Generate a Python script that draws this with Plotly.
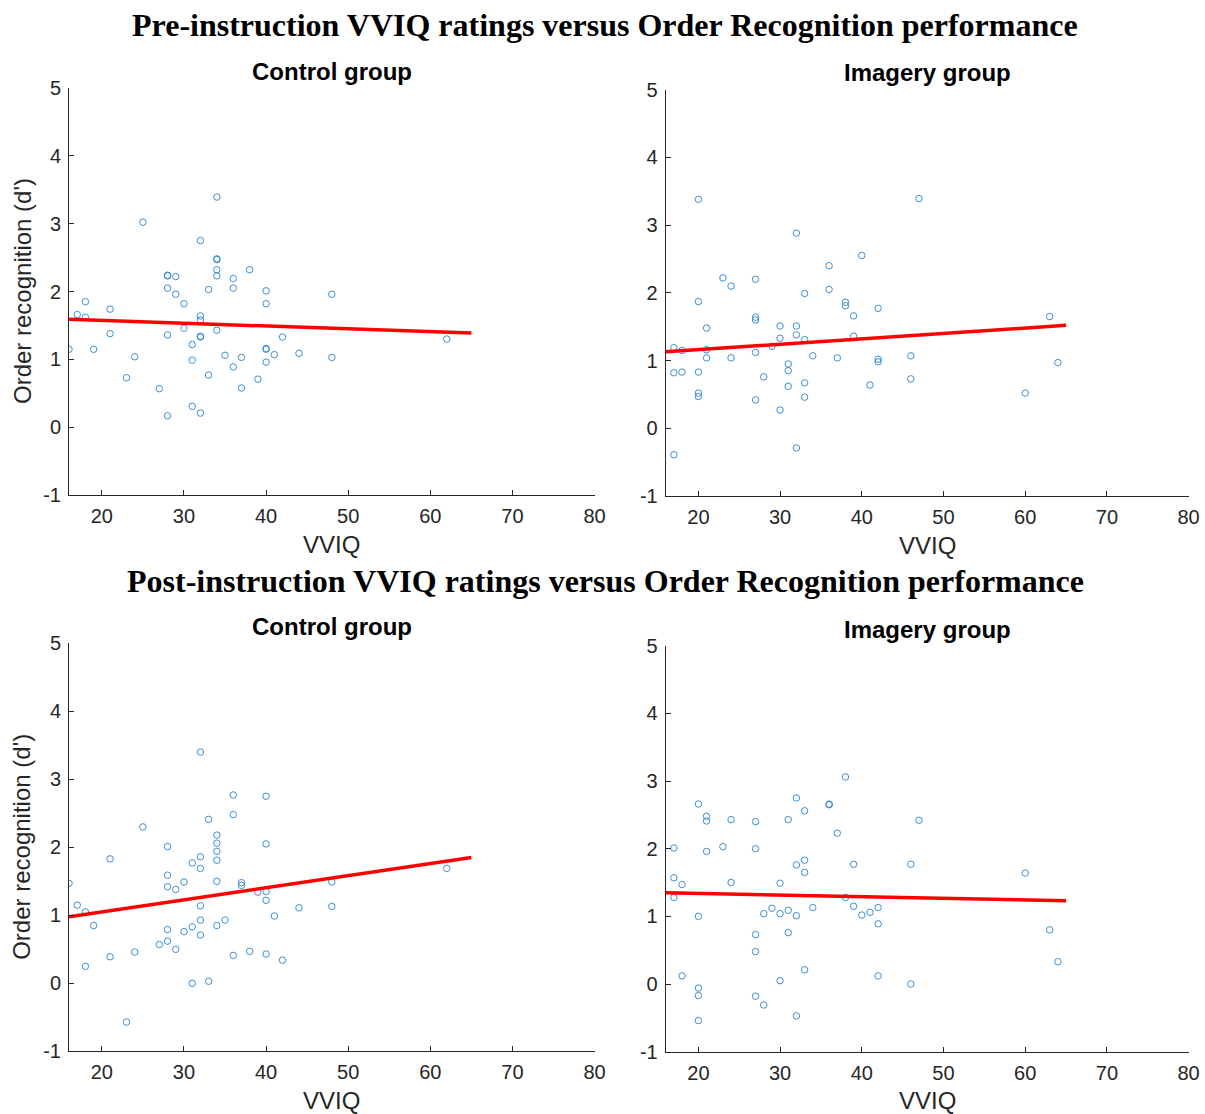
import plotly.graph_objects as go

# VVIQ score vs. order-recognition d' for each group and session
pre_control_vviq = [34, 25, 32, 34, 34, 34, 34, 28, 28, 29, 38, 36, 36, 28, 29, 33, 40, 40, 18, 21,
                    17, 18, 30, 32, 32, 30, 34, 28, 21, 32, 32, 42, 16, 19, 31, 40, 40, 35, 37, 41,
                    44, 24, 31, 40, 36, 23, 33, 39, 37, 27, 31, 28, 32, 48, 48, 62]
pre_control_d = [3.39, 3.02, 2.75, 2.48, 2.47, 2.32, 2.23, 2.23, 2.24, 2.22, 2.32, 2.19, 2.05, 2.05,
                 1.96, 2.03, 2.01, 1.82, 1.85, 1.74, 1.66, 1.62, 1.82, 1.64, 1.58, 1.46, 1.43, 1.36,
                 1.38, 1.33, 1.34, 1.33, 1.15, 1.15, 1.22, 1.15, 1.16, 1.06, 1.03, 1.07, 1.09, 1.04,
                 0.99, 0.96, 0.89, 0.73, 0.77, 0.71, 0.58, 0.57, 0.31, 0.17, 0.21, 1.96, 1.03, 1.30]

pre_imagery_vviq = [20, 32, 40, 36, 23, 24, 27, 36, 33, 20, 38, 38, 42, 39, 27, 27, 21, 30, 32, 32,
                    30, 33, 39, 17, 18, 21, 29, 27, 21, 24, 34, 37, 42, 42, 31, 31, 17, 18, 20, 28,
                    31, 33, 41, 20, 20, 27, 33, 30, 32, 17, 47, 63, 46, 46, 64, 60]
pre_imagery_d = [3.38, 2.88, 2.55, 2.40, 2.22, 2.10, 2.20, 2.05, 1.99, 1.87, 1.86, 1.81, 1.77, 1.66,
                 1.64, 1.60, 1.48, 1.51, 1.51, 1.38, 1.33, 1.31, 1.36, 1.19, 1.15, 1.16, 1.21, 1.12,
                 1.04, 1.04, 1.07, 1.04, 1.02, 0.98, 0.95, 0.85, 0.82, 0.83, 0.83, 0.76, 0.62, 0.67,
                 0.64, 0.52, 0.47, 0.42, 0.46, 0.27, -0.29, -0.39, 3.39, 1.65, 1.07, 0.73, 0.97, 0.52]

post_control_vviq = [32, 36, 40, 36, 33, 25, 34, 34, 40, 28, 34, 21, 32, 34, 31, 32, 16, 28, 28, 29,
                     30, 34, 37, 37, 39, 40, 40, 17, 18, 32, 44, 41, 19, 32, 35, 34, 31, 30, 28, 32,
                     28, 27, 29, 24, 21, 36, 38, 40, 42, 18, 31, 33, 23, 48, 48, 62]
post_control_d = [3.40, 2.77, 2.75, 2.48, 2.41, 2.30, 2.18, 2.06, 2.05, 2.01, 1.94, 1.83, 1.86, 1.81,
                  1.77, 1.69, 1.47, 1.59, 1.42, 1.38, 1.49, 1.50, 1.48, 1.44, 1.34, 1.35, 1.22, 1.15,
                  1.05, 1.14, 1.11, 0.99, 0.85, 0.93, 0.93, 0.85, 0.83, 0.76, 0.79, 0.71, 0.62, 0.57,
                  0.50, 0.46, 0.39, 0.41, 0.47, 0.43, 0.34, 0.25, 0.00, 0.03, -0.57, 1.49, 1.13, 1.69]

post_imagery_vviq = [38, 32, 20, 36, 36, 33, 21, 21, 24, 27, 31, 37, 23, 17, 21, 27, 33, 32, 39, 33,
                     17, 18, 24, 30, 17, 38, 39, 34, 29, 31, 28, 30, 32, 40, 41, 42, 20, 42, 31, 27,
                     27, 33, 18, 42, 30, 20, 20, 27, 28, 32, 20, 47, 46, 60, 63, 64, 46]
post_imagery_d = [3.06, 2.75, 2.66, 2.66, 2.65, 2.56, 2.48, 2.41, 2.43, 2.40, 2.43, 2.23, 2.03, 2.01,
                  1.96, 2.00, 1.83, 1.76, 1.77, 1.65, 1.57, 1.47, 1.50, 1.49, 1.28, 1.28, 1.15, 1.13,
                  1.12, 1.09, 1.04, 1.04, 1.01, 1.02, 1.06, 1.13, 1.00, 0.89, 0.76, 0.73, 0.48, 0.21,
                  0.12, 0.12, 0.05, -0.06, -0.17, -0.18, -0.31, -0.47, -0.54, 2.42, 1.77, 1.64, 0.80,
                  0.33, 0.00]

# least-squares fit lines, evaluated at the ends of the VVIQ range
fit_vviq = [16, 65]
pre_control_fit = [1.59, 1.39]
pre_imagery_fit = [1.13, 1.52]
post_control_fit = [0.98, 1.85]
post_imagery_fit = [1.35, 1.23]

x_ticks = [20, 30, 40, 50, 60, 70, 80]
y_ticks = [-1, 0, 1, 2, 3, 4, 5]

panel_titles = ["Control group", "Imagery group", "Control group", "Imagery group"]
figure_titles = ["Pre-instruction VVIQ ratings versus Order Recognition performance",
                 "Post-instruction VVIQ ratings versus Order Recognition performance"]

W, H = 1205, 1114
AXIS_COLOR = "#262626"
MARKER_COLOR = "rgb(40,130,205)"
SANS = "Liberation Sans, Arial, sans-serif"
SERIF = "Liberation Serif, Times New Roman, serif"

# pixel boxes of each axes: (left, right, top, bottom)
boxes = [(69, 594.6, 87.7, 495.3),
         (665.7, 1188.6, 89.5, 496.1),
         (69, 594.6, 643.3, 1051.3),
         (665.7, 1188.6, 645.7, 1051.7)]

panels = [(pre_control_vviq, pre_control_d, pre_control_fit),
          (pre_imagery_vviq, pre_imagery_d, pre_imagery_fit),
          (post_control_vviq, post_control_d, post_control_fit),
          (post_imagery_vviq, post_imagery_d, post_imagery_fit)]

fig = go.Figure()
layout = {}
annotations = []

for i, ((vx, vy, fit), (l, r, t, b)) in enumerate(zip(panels, boxes)):
    n = "" if i == 0 else str(i + 1)
    xa, ya = "x" + n, "y" + n
    fig.add_trace(go.Scatter(
        x=vx, y=vy, mode="markers", xaxis=xa, yaxis=ya, showlegend=False,
        marker=dict(symbol="circle-open", size=6.5, color=MARKER_COLOR,
                    line=dict(width=0.9, color=MARKER_COLOR))))
    fig.add_trace(go.Scatter(
        x=fit_vviq, y=fit, mode="lines", xaxis=xa, yaxis=ya, showlegend=False,
        line=dict(color="#ff0000", width=3.5)))

    common = dict(showline=True, linecolor=AXIS_COLOR, linewidth=1, mirror=False,
                  showgrid=False, zeroline=False, ticks="inside", ticklen=5,
                  tickcolor=AXIS_COLOR, tickwidth=1,
                  tickfont=dict(family=SANS, size=20, color=AXIS_COLOR))
    layout["xaxis" + n] = dict(common, domain=[l / W, r / W], range=[16, 80],
                               tickvals=x_ticks, ticktext=[str(v) for v in x_ticks],
                               ticklabelstandoff=3, anchor=ya)
    layout["yaxis" + n] = dict(common, domain=[1 - b / H, 1 - t / H], range=[-1, 5],
                               tickvals=y_ticks, ticktext=[str(v) for v in y_ticks],
                               ticklabelstandoff=3, anchor=xa)

    cx = (l + r) / 2
    annotations.append(dict(text="<b>%s</b>" % panel_titles[i], x=cx / W,
                            y=1 - (t - 16.5) / H, xref="paper", yref="paper",
                            showarrow=False, xanchor="center", yanchor="middle",
                            font=dict(family=SANS, size=24, color="#000000")))
    annotations.append(dict(text="VVIQ", x=cx / W, y=1 - (b + 49) / H,
                            xref="paper", yref="paper", showarrow=False,
                            xanchor="center", yanchor="middle",
                            font=dict(family=SANS, size=24, color=AXIS_COLOR)))
    if i % 2 == 0:
        annotations.append(dict(text="Order recognition (d')", x=22 / W,
                                y=1 - ((t + b) / 2 - 0.5) / H, xref="paper", yref="paper",
                                showarrow=False, textangle=-90,
                                xanchor="center", yanchor="middle",
                                font=dict(family=SANS, size=24, color=AXIS_COLOR)))

for j, ty in enumerate([25, 581]):
    annotations.append(dict(text="<b>%s</b>" % figure_titles[j], x=605 / W, y=1 - ty / H,
                            xref="paper", yref="paper", showarrow=False,
                            xanchor="center", yanchor="middle",
                            font=dict(family=SERIF, size=32, color="#000000")))

fig.update_layout(width=W, height=H,
                  margin=dict(l=0, r=0, t=0, b=0, pad=0, autoexpand=False),
                  paper_bgcolor="white", plot_bgcolor="white",
                  annotations=annotations, **layout)

fig.write_html("out.html")
